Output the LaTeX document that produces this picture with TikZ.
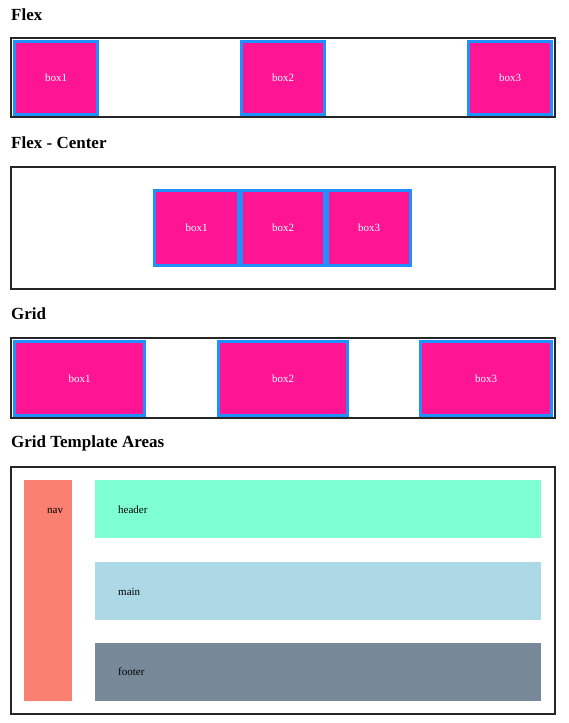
\documentclass[tikz,border=0pt]{standalone}
\usepackage{fontspec}
\setmainfont{Liberation Serif}
\definecolor{pinkbox}{HTML}{FF1493}
\definecolor{bluebrd}{HTML}{1E90FF}
\definecolor{navc}{HTML}{FA8072}
\definecolor{headerc}{HTML}{7FFFD4}
\definecolor{mainc}{HTML}{ADD8E6}
\definecolor{footerc}{HTML}{778899}
\newcommand\rbox[7]{\node[#1, minimum width={#5-#3}, minimum height={#6-#4}] (#2) at ({(#3+#5)/2},{(#4+#6)/2}) {#7};}
\begin{document}
\begin{tikzpicture}[x=1pt,y=-1pt,
  title/.style={anchor=base west, inner sep=0, font=\bfseries\fontsize{17}{20}\selectfont},
  container/.style={draw=black!85, line width=2pt, inner sep=0, outer sep=0},
  flexbox/.style={fill=pinkbox, draw=bluebrd, line width=3pt, inner sep=0, outer sep=0, text=white, font=\fontsize{11}{13}\selectfont},
  area/.style={inner sep=0, outer sep=0, draw=none},
  arealabel/.style={anchor=base west, inner sep=0, text=black, font=\fontsize{11}{13}\selectfont}]
\useasboundingbox (0,0) rectangle (569,723);
\fill[white] (0,0) rectangle (569,723);

% Flex
\node[title] (t1) at (11,20) {Flex};
\rbox{container}{c1}{11}{38}{555}{117}{}
\rbox{flexbox}{f1}{14.5}{41.5}{97.5}{114.5}{box1}
\rbox{flexbox}{f2}{241.5}{41.5}{324.5}{114.5}{box2}
\rbox{flexbox}{f3}{468.5}{41.5}{551.5}{114.5}{box3}

% Flex - Center
\node[title] (t2) at (11,148) {Flex - Center};
\rbox{container}{c2}{11}{167}{555}{289}{}
\rbox{flexbox}{fc1}{154.5}{190.5}{238.5}{265.5}{box1}
\rbox{flexbox}{fc2}{241.5}{190.5}{324.5}{265.5}{box2}
\rbox{flexbox}{fc3}{327.5}{190.5}{410.5}{265.5}{box3}

% Grid
\node[title] (t3) at (11,319) {Grid};
\rbox{container}{c3}{11}{338}{555}{418}{}
\rbox{flexbox}{g1}{14.5}{341.5}{144.5}{415.5}{box1}
\rbox{flexbox}{g2}{218.5}{341.5}{347.5}{415.5}{box2}
\rbox{flexbox}{g3}{420.5}{341.5}{551.5}{415.5}{box3}

% Grid Template Areas
\node[title] (t4) at (11,447) {Grid Template Areas};
\rbox{container}{c4}{11}{467}{555}{714}{}
\rbox{area, fill=navc}{nav}{24}{480}{72}{701}{}
\rbox{area, fill=headerc}{hdr}{95}{480}{541}{538}{}
\rbox{area, fill=mainc}{mn}{95}{562}{541}{620}{}
\rbox{area, fill=footerc}{ftr}{95}{643}{541}{701}{}
\node[arealabel] (navl) at (47,513) {nav};
\node[arealabel] (hdrl) at (118,513) {header};
\node[arealabel] (mnl) at (118,595) {main};
\node[arealabel] (ftrl) at (118,675) {footer};
\end{tikzpicture}
\end{document}
